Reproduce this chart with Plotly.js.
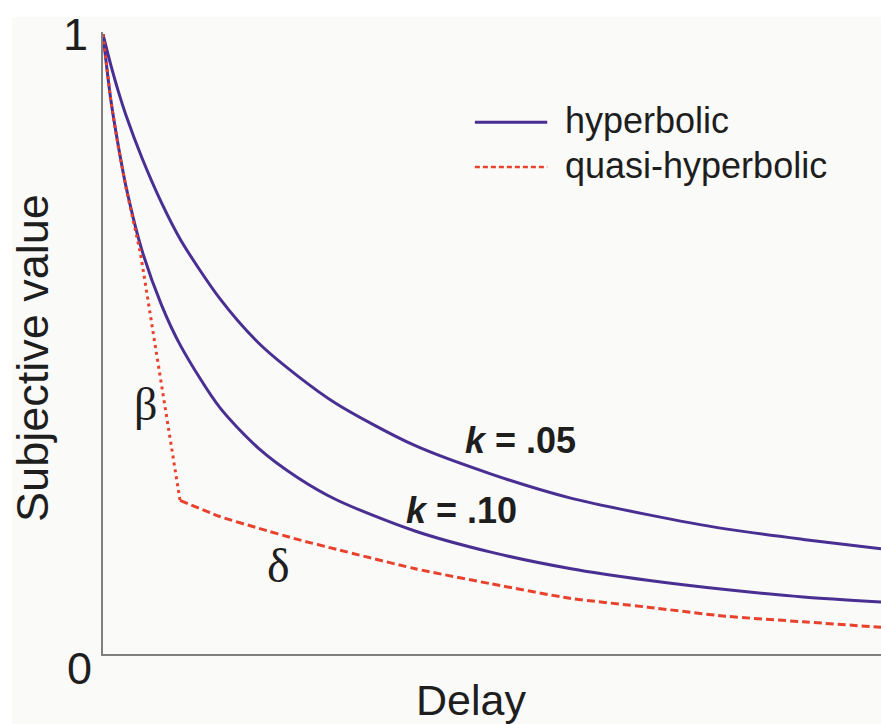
<!DOCTYPE html>
<html>
<head>
<meta charset="utf-8">
<script src="https://cdn.plot.ly/plotly-3.0.1.min.js"></script>
<style>
  html, body { margin: 0; padding: 0; background: #ffffff; }
  #panel { position: absolute; left: 12px; top: 17px; width: 869px; height: 707px; background: #fafaf9; }
  #chart { position: absolute; left: 0; top: 0; width: 881px; height: 724px; }
</style>
</head>
<body>
<div id="panel"></div>
<div id="chart"></div>
<script>
// Delay axis samples for the two hyperbolic discount curves
const delay = [0, 1, 2, 3, 5, 7.5, 10, 15, 20, 25, 30, 40, 50, 60, 70, 80, 90, 100];
const hyperK05 = [1.0, 0.951, 0.907, 0.868, 0.801, 0.729, 0.668, 0.574, 0.502, 0.449, 0.404, 0.337, 0.290, 0.252, 0.225, 0.202, 0.185, 0.170];
const hyperK10 = [1.0, 0.895, 0.818, 0.752, 0.652, 0.564, 0.497, 0.398, 0.332, 0.285, 0.249, 0.199, 0.164, 0.138, 0.119, 0.104, 0.092, 0.084];

// Quasi-hyperbolic: steep beta drop, then slow delta decay
const betaDelay = [0, 1, 2, 3, 4.8, 6, 7, 8, 9, 9.9];
const betaValue = [1.0, 0.893, 0.816, 0.750, 0.648, 0.555, 0.477, 0.399, 0.320, 0.248];
const deltaDelay = [9.9, 15, 20, 25, 30, 40, 50, 60, 70, 80, 90, 100];
const deltaValue = [0.248, 0.222, 0.203, 0.185, 0.169, 0.138, 0.113, 0.090, 0.0756, 0.061, 0.052, 0.043];

// Text labels
const seriesNames = ['hyperbolic', 'quasi-hyperbolic'];
const yTickLabels = ['0', '1'];
const xTitle = 'Delay';
const yTitle = 'Subjective value';
const kLabels = ['<b><i>k</i> = .05</b>', '<b><i>k</i> = .10</b>'];
const paramLabels = ['β', 'δ'];

const PURPLE = '#4a2f92';
const RED = '#e8412c';
const SANS = 'Liberation Sans, Arial, sans-serif';
const SERIF = 'Liberation Serif, Times New Roman, serif';
const INK = '#1e1e1e';

const traces = [
  { x: delay, y: hyperK05, mode: 'lines', line: { color: PURPLE, width: 3, shape: 'spline', smoothing: 0.8 } },
  { x: delay, y: hyperK10, mode: 'lines', line: { color: PURPLE, width: 3, shape: 'spline', smoothing: 0.8 } },
  { x: betaDelay, y: betaValue, mode: 'lines', line: { color: RED, width: 3, dash: '3px,4px' } },
  { x: deltaDelay, y: deltaValue, mode: 'lines', line: { color: RED, width: 3, dash: '8px,4px', shape: 'spline', smoothing: 0.6 } }
];

const annotations = [
  // y-axis end labels
  { text: yTickLabels[1], xref: 'paper', x: 0, xanchor: 'right', xshift: -13, yref: 'y', y: 1, yanchor: 'middle', showarrow: false, font: { family: SANS, size: 45, color: INK } },
  { text: yTickLabels[0], xref: 'paper', x: 0, xanchor: 'right', xshift: -9, yref: 'y', y: 0, yanchor: 'middle', yshift: -14, showarrow: false, font: { family: SANS, size: 45, color: INK } },
  // axis titles
  { text: yTitle, xref: 'paper', x: -0.09, xanchor: 'center', yref: 'paper', y: 0.476, yanchor: 'middle', textangle: -90, showarrow: false, font: { family: SANS, size: 45, color: INK } },
  { text: xTitle, xref: 'paper', x: 0.473, xanchor: 'center', yref: 'paper', y: -0.074, yanchor: 'middle', showarrow: false, font: { family: SANS, size: 43, color: INK } },
  // curve labels
  { text: kLabels[0], x: 53.7, y: 0.344, xanchor: 'center', yanchor: 'middle', showarrow: false, font: { family: SANS, size: 36, color: INK } },
  { text: kLabels[1], x: 46.1, y: 0.2315, xanchor: 'center', yanchor: 'middle', showarrow: false, font: { family: SANS, size: 36, color: INK } },
  { text: paramLabels[0], x: 5.5, y: 0.402, xanchor: 'center', yanchor: 'middle', showarrow: false, font: { family: SERIF, size: 46, color: INK } },
  { text: paramLabels[1], x: 22.6, y: 0.143, xanchor: 'center', yanchor: 'middle', showarrow: false, font: { family: SERIF, size: 48, color: INK } },
  // legend entries
  { text: seriesNames[0], xref: 'paper', x: 0.591, xanchor: 'left', yref: 'paper', y: 0.857, yanchor: 'middle', showarrow: false, font: { family: SANS, size: 36, color: INK } },
  { text: seriesNames[1], xref: 'paper', x: 0.591, xanchor: 'left', yref: 'paper', y: 0.785, yanchor: 'middle', showarrow: false, font: { family: SANS, size: 36, color: INK } }
];

// legend swatches
const shapes = [
  { type: 'line', xref: 'paper', yref: 'paper', x0: 0.478, x1: 0.571, y0: 0.855, y1: 0.855, line: { color: PURPLE, width: 3 } },
  { type: 'line', xref: 'paper', yref: 'paper', x0: 0.478, x1: 0.571, y0: 0.783, y1: 0.783, line: { color: RED, width: 2.5, dash: '5px,3px' } }
];

const layout = {
  width: 881,
  height: 724,
  margin: { l: 103, r: 0, t: 32, b: 70, pad: 0 },
  paper_bgcolor: 'rgba(0,0,0,0)',
  plot_bgcolor: 'rgba(0,0,0,0)',
  showlegend: false,
  hovermode: false,
  xaxis: {
    range: [0, 100], showgrid: false, zeroline: false, showticklabels: false, ticks: '',
    showline: true, linecolor: '#7f7f7f', linewidth: 2
  },
  yaxis: {
    range: [0, 1.004], showgrid: false, zeroline: false, showticklabels: false, ticks: '',
    showline: true, linecolor: '#7f7f7f', linewidth: 2
  },
  annotations: annotations,
  shapes: shapes
};

Plotly.newPlot('chart', traces, layout, { staticPlot: true, displayModeBar: false });
</script>
</body>
</html>
